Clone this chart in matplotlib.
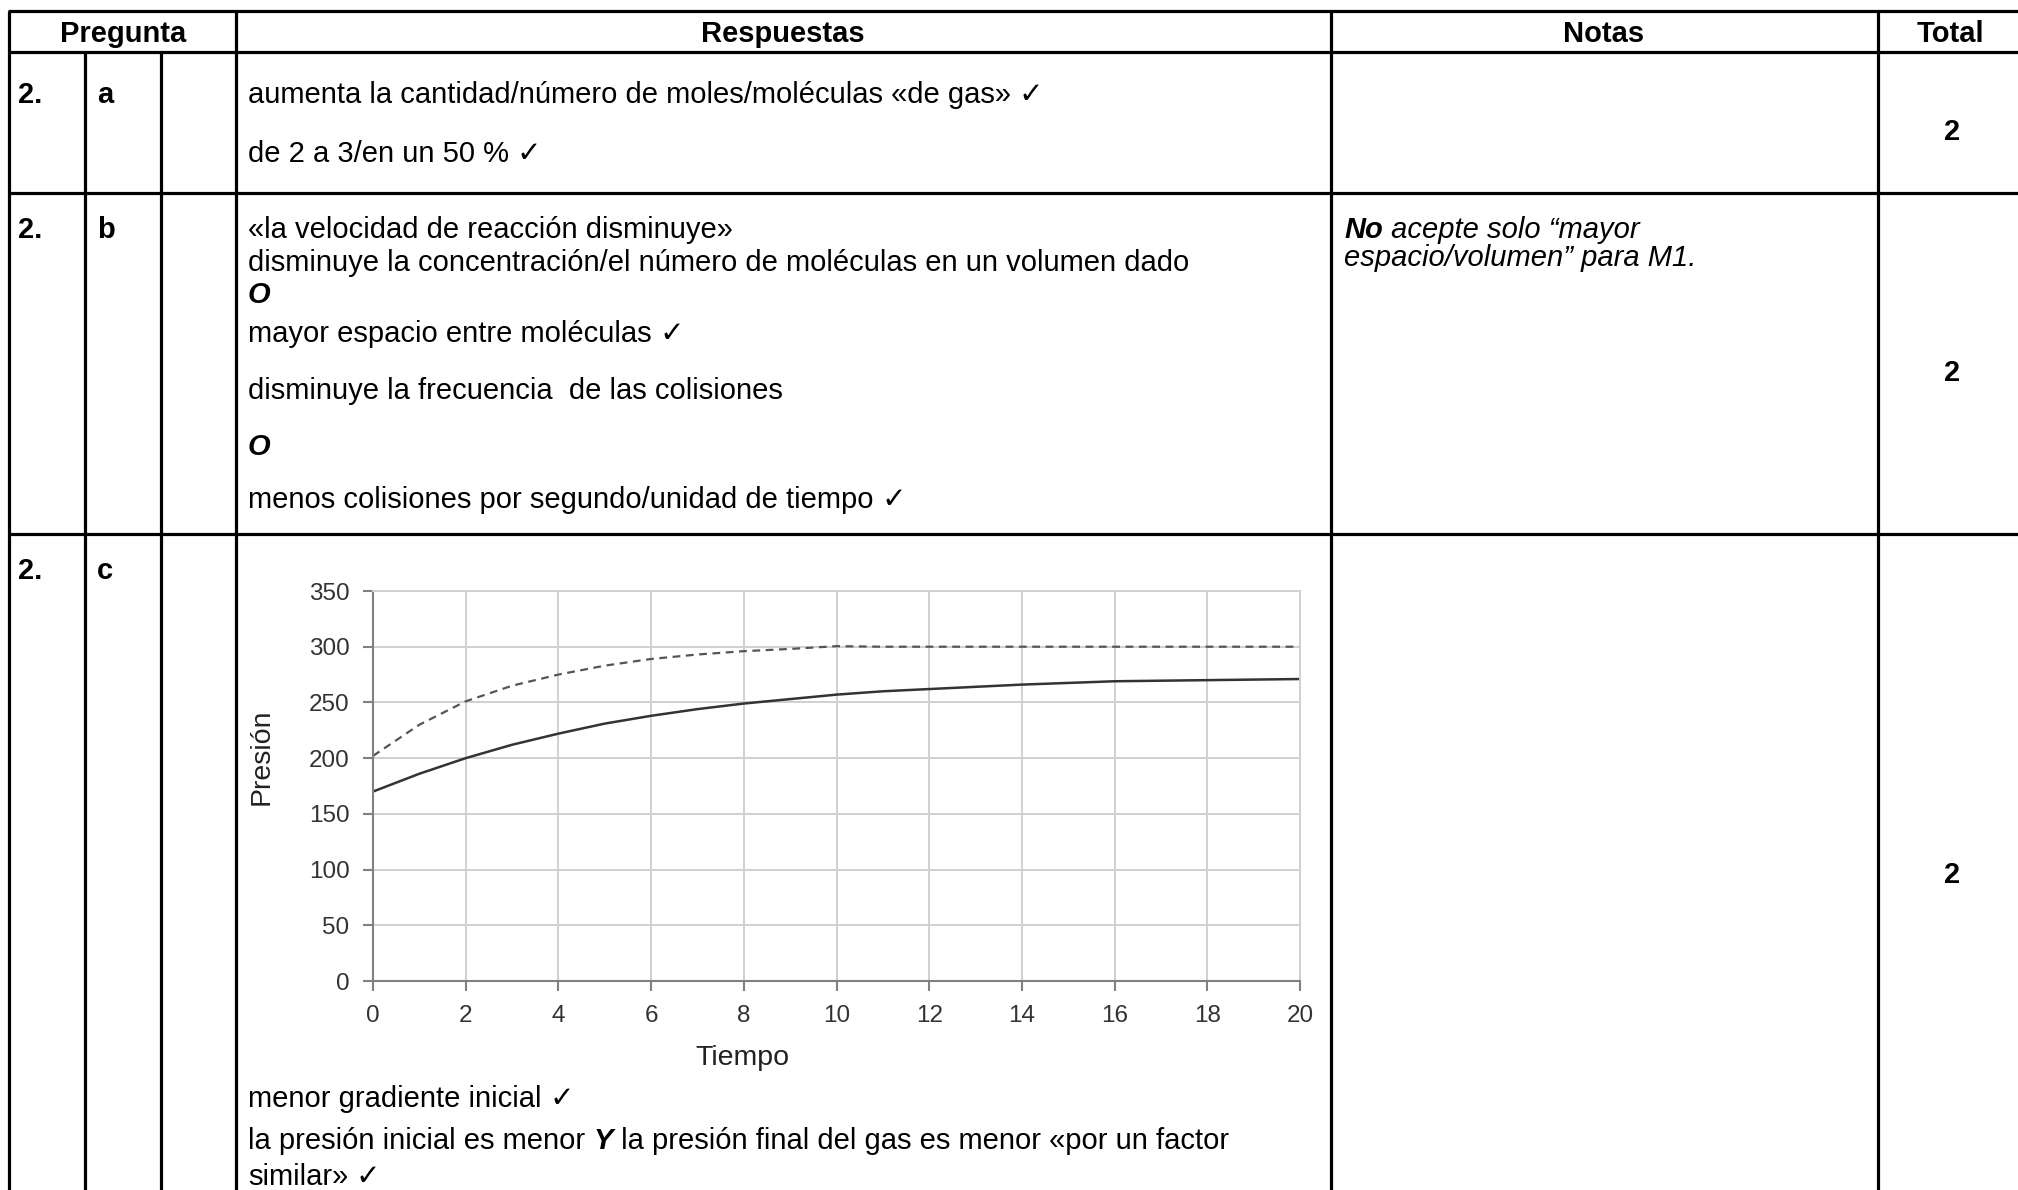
import matplotlib
matplotlib.use("Agg")
import matplotlib.pyplot as plt

FONT = ["Liberation Sans", "DejaVu Sans"]
plt.rcParams["font.family"] = FONT

# data to plot
tiempo = [0, 1, 2, 3, 4, 5, 6, 7, 8, 9, 10, 11, 12, 13, 14, 15, 16, 17, 18, 19, 20]
presion_original = [202, 230, 251, 265, 275, 283, 289, 293, 296, 298, 300.5,
                    300, 300, 300, 300, 300, 300, 300, 300, 300, 300]
presion_nueva = [170, 186, 200, 212, 222, 231, 238, 244, 249, 253, 257,
                 260, 262, 264, 266, 267.5, 269, 269.5, 270, 270.5, 271]
x_ticks = [0, 2, 4, 6, 8, 10, 12, 14, 16, 18, 20]
y_ticks = [0, 50, 100, 150, 200, 250, 300, 350]

W, H = 2018, 1190
fig = plt.figure(figsize=(W / 100, H / 100), dpi=100)
bg = fig.add_axes([0, 0, 1, 1])
bg.set_xlim(0, W)
bg.set_ylim(H, 0)
bg.axis("off")
renderer = fig.canvas.get_renderer()

# table grid
lw = 2.3
for y in [11, 52, 193, 534]:
    bg.plot([8, W], [y, y], color="black", lw=lw, solid_capstyle="butt")
for x in [9, 236, 1331, 1878]:
    bg.plot([x, x], [11, H], color="black", lw=lw, solid_capstyle="butt")
for x in [85, 161]:
    bg.plot([x, x], [52, H], color="black", lw=lw, solid_capstyle="butt")

CHECK = "\u2713"


def rich(x, y, parts, size=21):
    for s, w, st in parts:
        t = bg.text(x, y, s, fontsize=size, fontweight=w, fontstyle=st,
                    va="baseline", ha="left")
        x += t.get_window_extent(renderer).width


def plain(x, y, s, weight="normal", style="normal", check=False):
    parts = [(s, weight, style)]
    if check:
        parts.append((" " + CHECK, "bold", "normal"))
    rich(x, y, parts)


# header
for cx, s in [(123, "Pregunta"), (783, "Respuestas"), (1604, "Notas"), (1950, "Total")]:
    bg.text(cx, 42, s, fontsize=21, fontweight="bold", ha="center", va="baseline")

# question numbers and totals
for y, letter, tot_y in [(103, "a", 140), (238, "b", 381), (579, "c", 883)]:
    bg.text(18, y, "2.", fontsize=21, fontweight="bold", va="baseline")
    bg.text(97, y, letter, fontsize=21, fontweight="bold", va="baseline")
    bg.text(1952, tot_y, "2", fontsize=21, fontweight="bold", ha="center", va="baseline")

tx = 248
# row a
plain(tx, 103, "aumenta la cantidad/número de moles/moléculas «de gas»", check=True)
plain(tx, 162, "de 2 a 3/en un 50 %", check=True)

# row b
plain(tx, 238, "«la velocidad de reacción disminuye»")
plain(tx, 271, "disminuye la concentración/el número de moléculas en un volumen dado")
plain(tx, 303, "O", weight="bold", style="italic")
plain(tx, 342, "mayor espacio entre moléculas", check=True)
plain(tx, 399, "disminuye la frecuencia  de las colisiones")
plain(tx, 455, "O", weight="bold", style="italic")
plain(tx, 508, "menos colisiones por segundo/unidad de tiempo", check=True)

rich(1344, 238, [("No", "bold", "italic"), (" acepte solo “mayor", "normal", "italic")])
plain(1344, 266, "espacio/volumen” para M1.", style="italic")

# row c text
plain(tx, 1107, "menor gradiente inicial", check=True)
rich(tx, 1149, [("la presión inicial es menor ", "normal", "normal"),
                ("Y", "bold", "italic"),
                (" la presión final del gas es menor «por un factor", "normal", "normal")])
plain(tx, 1185, "similar»", check=True)

# chart
x0, x1, y0, y1 = 373, 1300, 981, 591
ax = fig.add_axes([x0 / W, (H - y0) / H, (x1 - x0) / W, (y0 - y1) / H])
ax.plot(tiempo, presion_original, color="#555555", lw=1.6, dashes=(3.5, 2.5))
ax.plot(tiempo, presion_nueva, color="#333333", lw=1.8)
ax.set_xlim(0, 20)
ax.set_ylim(0, 350)
ax.set_xticks(x_ticks)
ax.set_yticks(y_ticks)
ax.grid(True, color="#d0d0d0", lw=1.4)
ax.set_axisbelow(True)
for side in ["top", "right"]:
    ax.spines[side].set_color("#d0d0d0")
    ax.spines[side].set_linewidth(1.4)
for side in ["left", "bottom"]:
    ax.spines[side].set_color("#808080")
    ax.spines[side].set_linewidth(1.5)
ax.tick_params(colors="#808080", labelcolor="#333333", labelsize=17.5,
               length=7, width=1.5, pad=10)
ax.set_xlabel("Tiempo", fontsize=20.5, color="#222222")
ax.set_ylabel("Presión", fontsize=20.5, color="#222222")
ax.xaxis.set_label_coords(0.399, -0.165)
ax.yaxis.set_label_coords(-0.106, 0.574)

fig.savefig("out.png", dpi=100)
